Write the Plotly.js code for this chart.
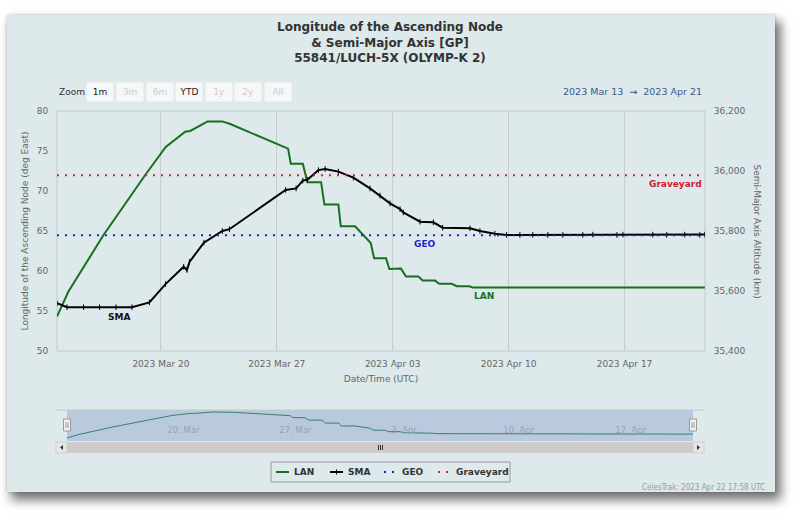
<!DOCTYPE html>
<html><head><meta charset="utf-8">
<script src="https://cdn.plot.ly/plotly-3.0.1.min.js"></script>
<style>
html,body{margin:0;padding:0;background:#ffffff;width:811px;height:526px;overflow:hidden}
#card{position:absolute;left:7px;top:15px;width:768px;height:477px;background:#dde9ea;box-shadow:5px 7px 10px 1px rgba(0,0,0,0.55),0 0 3px rgba(0,0,0,0.2)}
#chart{position:absolute;left:0;top:0;width:811px;height:526px}
</style></head><body>
<div id="card"></div><div id="chart"></div>
<script>
// ---- data ----
const xRange = ['2023-03-13 17:22', '2023-04-21 20:40'];

const lanDates = ['2023-03-13 17:22','2023-03-14 09:45','2023-03-16 12:50','2023-03-19 01:15','2023-03-20 07:00',
  '2023-03-21 11:10','2023-03-21 18:25','2023-03-22 19:45','2023-03-23 16:45','2023-03-24 03:40','2023-03-27 16:20',
  '2023-03-27 20:15','2023-03-28 13:40','2023-03-28 20:20','2023-03-29 16:10','2023-03-29 21:00','2023-03-30 17:15',
  '2023-03-30 20:40','2023-03-31 17:25','2023-04-01 16:10','2023-04-01 21:00','2023-04-02 14:20','2023-04-02 19:05',
  '2023-04-03 12:00','2023-04-03 19:15','2023-04-04 13:05','2023-04-04 19:30','2023-04-05 13:15','2023-04-05 19:30',
  '2023-04-06 13:30','2023-04-06 20:45','2023-04-07 15:00','2023-04-07 19:50','2023-04-13 02:25','2023-04-21 20:25'];
const lanValues = [54.3,57.4,64.5,72.0,75.5,77.4,77.5,78.7,78.7,78.4,75.3,73.4,73.4,71.1,71.1,68.3,68.3,65.6,65.6,
  63.5,61.6,61.6,60.25,60.3,59.3,59.3,58.8,58.8,58.4,58.4,58.1,58.1,57.95,57.95,57.95];

const smaDates = ['2023-03-13 17:22','2023-03-14 07:50','2023-03-15 07:55','2023-03-16 07:05','2023-03-17 06:50',
  '2023-03-18 06:00','2023-03-19 07:20','2023-03-20 06:40','2023-03-21 09:00','2023-03-21 13:40','2023-03-21 17:25',
  '2023-03-22 14:15','2023-03-23 17:05','2023-03-24 03:20','2023-03-27 12:45','2023-03-28 04:00','2023-03-28 13:40',
  '2023-03-28 20:20','2023-03-29 12:15','2023-03-29 22:00','2023-03-30 17:15','2023-03-31 15:00','2023-04-01 15:05',
  '2023-04-02 05:35','2023-04-02 20:05','2023-04-03 10:35','2023-04-03 15:20','2023-04-04 15:35','2023-04-05 10:50',
  '2023-04-06 00:25','2023-04-07 16:00','2023-04-08 06:25','2023-04-09 04:10','2023-04-09 21:05','2023-04-10 16:20',
  '2023-04-11 11:00','2023-04-12 08:50','2023-04-13 06:40','2023-04-14 11:30','2023-04-15 02:10','2023-04-16 13:00',
  '2023-04-16 21:40','2023-04-18 17:00','2023-04-19 13:10','2023-04-20 15:20','2023-04-21 13:10','2023-04-21 20:25'];
const smaValues = [35559,35546,35546,35546,35546,35546,35562,35623,35681,35670,35697,35761,35800,35806,35937,35942,
  35968,35971,36003,36007,35998,35978,35942,35918,35892,35873,35862,35831,35829,35811,35809,35800,35791,35787,
  35787,35787,35787,35787,35787,35788,35787,35788,35788,35787,35788,35787,35788];

const geoValue = 35786;
const graveyardValue = 35986;

const lanRange = [50, 80];
const smaRange = [35400, 36200];
const navRange = [51.5, 80.6];

const zoomButtons = ['1m','3m','6m','YTD','1y','2y','All'];
const zoomEnabled = [true,false,false,true,false,false,false];

// ---- layout helpers (pixel -> paper) ----
const L = 57, R = 705, T = 111, B = 441;
const px = x => (x - L) / (R - L);
const py = y => (B - y) / (B - T);
const WEEK = 7 * 24 * 3600 * 1000;
const tickFont = {family:'DejaVu Sans', size:9, color:'#666666'};

const traces = [
  {x: lanDates, y: lanValues, name: 'LAN', type: 'scatter', mode: 'lines',
   line: {color:'#17701d', width:2}, xaxis:'x', yaxis:'y'},
  {x: smaDates, y: smaValues, name: 'SMA', type: 'scatter', mode: 'lines+markers',
   line: {color:'#000000', width:2},
   marker: {symbol:'line-ns-open', size:4, color:'#000000', line:{width:1, color:'#000000'}},
   xaxis:'x', yaxis:'y2'},
  {x: xRange, y: [geoValue, geoValue], name: 'GEO', type: 'scatter', mode: 'lines',
   line: {color:'#2121c8', width:2, dash:'2px,6px'}, xaxis:'x', yaxis:'y2'},
  {x: xRange, y: [graveyardValue, graveyardValue], name: 'Graveyard', type: 'scatter', mode: 'lines',
   line: {color:'#dd2233', width:2, dash:'2px,6px'}, xaxis:'x', yaxis:'y2'},
  {x: lanDates, y: lanValues, name: 'LAN navigator', type: 'scatter', mode: 'lines', showlegend: false,
   line: {color:'#3f7c78', width:1}, xaxis:'x2', yaxis:'y3'}
];

const shapes = [
  {type:'rect', xref:'x domain', yref:'y domain', x0:0, x1:1, y0:0, y1:1, line:{color:'#c2caca', width:1}, layer:'below'},
  {type:'rect', xref:'x2 domain', yref:'y3 domain', x0:0, x1:1, y0:0, y1:1, fillcolor:'rgba(102,133,194,0.3)', line:{width:0}, layer:'below'},
  {type:'line', xref:'paper', yref:'paper', x0:px(56), x1:px(704), y0:py(410), y1:py(410), line:{color:'#c3c9cc', width:1}},
  {type:'rect', xref:'paper', yref:'paper', x0:px(67), x1:px(693), y0:py(442), y1:py(453), fillcolor:'#cfcbcb', line:{width:0}},
  {type:'rect', xref:'paper', yref:'paper', x0:px(56), x1:px(67), y0:py(442), y1:py(453), fillcolor:'#e6e6e6', line:{color:'#cccccc', width:1}},
  {type:'rect', xref:'paper', yref:'paper', x0:px(693), x1:px(704), y0:py(442), y1:py(453), fillcolor:'#e6e6e6', line:{color:'#cccccc', width:1}},
  {type:'path', xref:'paper', yref:'paper', fillcolor:'#333333', line:{width:0},
   path:`M ${px(60)} ${py(447.5)} L ${px(63)} ${py(445)} L ${px(63)} ${py(450)} Z`},
  {type:'path', xref:'paper', yref:'paper', fillcolor:'#333333', line:{width:0},
   path:`M ${px(700)} ${py(447.5)} L ${px(697)} ${py(445)} L ${px(697)} ${py(450)} Z`}
];
[378.5, 380.5, 382.5].forEach(gx => shapes.push({type:'line', xref:'paper', yref:'paper',
  x0:px(gx), x1:px(gx), y0:py(445), y1:py(450), line:{color:'#333333', width:1}}));
[67, 693].forEach(hx => {
  shapes.push({type:'rect', xref:'paper', yref:'paper', x0:px(hx-3.5), x1:px(hx+3.5), y0:py(419), y1:py(431),
    fillcolor:'#f2f2f2', line:{color:'#999999', width:1}});
  [hx-1, hx+1].forEach(lx => shapes.push({type:'line', xref:'paper', yref:'paper',
    x0:px(lx), x1:px(lx), y0:py(422), y1:py(428), line:{color:'#999999', width:1}}));
});

const ann = (text, x, y, font, extra) => Object.assign({text, xref:'paper', yref:'paper', x:px(x), y:py(y),
  xanchor:'center', yanchor:'middle', showarrow:false, font}, extra || {});

const annotations = [
  ann('<b>SMA</b>', 118.5, 317, {family:'DejaVu Sans', size:9, color:'#111111'}),
  ann('<b>LAN</b>', 483.5, 296, {family:'DejaVu Sans', size:9, color:'#17701d'}),
  ann('<b>GEO</b>', 425, 244, {family:'DejaVu Sans', size:9, color:'#2121c8'}),
  ann('<b>Graveyard</b>', 704, 184, {family:'DejaVu Sans', size:9, color:'#d01a2a'}, {xanchor:'right'}),
  ann('Semi-Major Axis Altitude (km)', 756.5, 231, {family:'DejaVu Sans', size:9, color:'#666666'}, {textangle:90}),
  ann('Zoom', 57, 92, {family:'DejaVu Sans', size:9, color:'#333333'}, {xanchor:'left'}),
  ann('2023 Mar 13  \u2192  2023 Apr 21', 704, 92, {family:'DejaVu Sans', size:9.5, color:'#3b5a86'}, {xanchor:'right'}),
  ann('CelesTrak: 2023 Apr 22 17:58 UTC', 767, 487, {family:'DejaVu Sans Condensed, DejaVu Sans', size:8, color:'#9a9a9a'}, {xanchor:'right'})
];
const btnCenters = [100, 130, 159.5, 188.5, 218.5, 248, 278];
zoomButtons.forEach((b, i) => annotations.push(ann(b, btnCenters[i], 92,
  {family:'DejaVu Sans', size:9, color: zoomEnabled[i] ? '#222222' : '#cccccc'},
  {width:24, height:16, borderpad:1, bgcolor:'#f7f7f7'})));

// ---- legend built from the traces (compact Highcharts-style row) ----
const legendTraces = traces.filter(t => t.showlegend !== false);
const legStart = 276, legStep = 54, legY = 472;
shapes.push({type:'rect', xref:'paper', yref:'paper', x0:px(271), x1:px(510), y0:py(462), y1:py(482),
  line:{color:'#9a9a9a', width:1}});
legendTraces.forEach((t, i) => {
  const s = legStart + i * legStep;
  shapes.push({type:'line', xref:'paper', yref:'paper', x0:px(s), x1:px(s + 13), y0:py(legY), y1:py(legY),
    line:{color:t.line.color, width:2, dash:t.line.dash || 'solid'}});
  if (t.mode.indexOf('markers') >= 0) shapes.push({type:'line', xref:'paper', yref:'paper',
    x0:px(s + 6.5), x1:px(s + 6.5), y0:py(legY - 2.5), y1:py(legY + 2.5), line:{color:t.marker.color, width:1}});
  annotations.push(ann('<b>' + t.name + '</b>', s + 16, legY,
    {family:'DejaVu Sans', size:9, color:'#333333'}, {xanchor:'left'}));
});

const layout = {
  width: 811, height: 526,
  paper_bgcolor: 'rgba(0,0,0,0)', plot_bgcolor: 'rgba(0,0,0,0)',
  margin: {l: L, r: 811 - R, t: T, b: 526 - B, pad: 0},
  title: {text: 'Longitude of the Ascending Node<br>&amp; Semi-Major Axis [GP]<br>55841/LUCH-5X (OLYMP-K 2)',
          xref:'container', yref:'container', x: 390/811, xanchor:'center', y: 1 - 31/526, yanchor:'top',
          font: {family:'DejaVu Sans', size:12, color:'#333333', weight:'bold'}},
  showlegend: false,
  xaxis: {domain:[0,1], anchor:'y', type:'date', range: xRange, tick0:'2023-03-20', dtick: WEEK,
          tickformat:'%Y %b %d', showgrid:true, gridcolor:'#c6cdcd', gridwidth:1, zeroline:false, showline:false,
          ticks:'outside', ticklen:4, tickcolor:'rgba(0,0,0,0)', tickfont: tickFont,
          title:{text:'Date/Time (UTC)', font:{family:'DejaVu Sans', size:9, color:'#666666'}, standoff:7}},
  yaxis: {domain:[py(351), 1], anchor:'x', range: lanRange, dtick:5, showgrid:false, zeroline:false, showline:false,
          ticks:'outside', ticklen:6, tickcolor:'rgba(0,0,0,0)', tickfont: tickFont,
          title:{text:'Longitude of the Ascending Node (deg East)', font:{family:'DejaVu Sans', size:9, color:'#666666'}, standoff:6}},
  yaxis2: {overlaying:'y', side:'right', anchor:'x', range: smaRange, dtick:200, tickformat:',d',
           showgrid:false, zeroline:false, showline:false,
           ticks:'outside', ticklen:6, tickcolor:'rgba(0,0,0,0)', tickfont: tickFont},
  xaxis2: {domain:[px(67), px(693)], anchor:'y3', type:'date', range: xRange, tick0:'2023-03-20', dtick: WEEK,
           tickformat:'%-d. %b', ticklabelposition:'inside right', showgrid:false, zeroline:false, showline:false,
           ticks:'', tickfont:{family:'DejaVu Sans', size:8.5, color:'#9aa2ae'}},
  yaxis3: {domain:[0, py(410)], anchor:'x2', range: navRange, visible:false},
  shapes: shapes,
  annotations: annotations,
  hovermode: false
};

Plotly.newPlot('chart', traces, layout, {staticPlot:true, displayModeBar:false});
</script></body></html>
